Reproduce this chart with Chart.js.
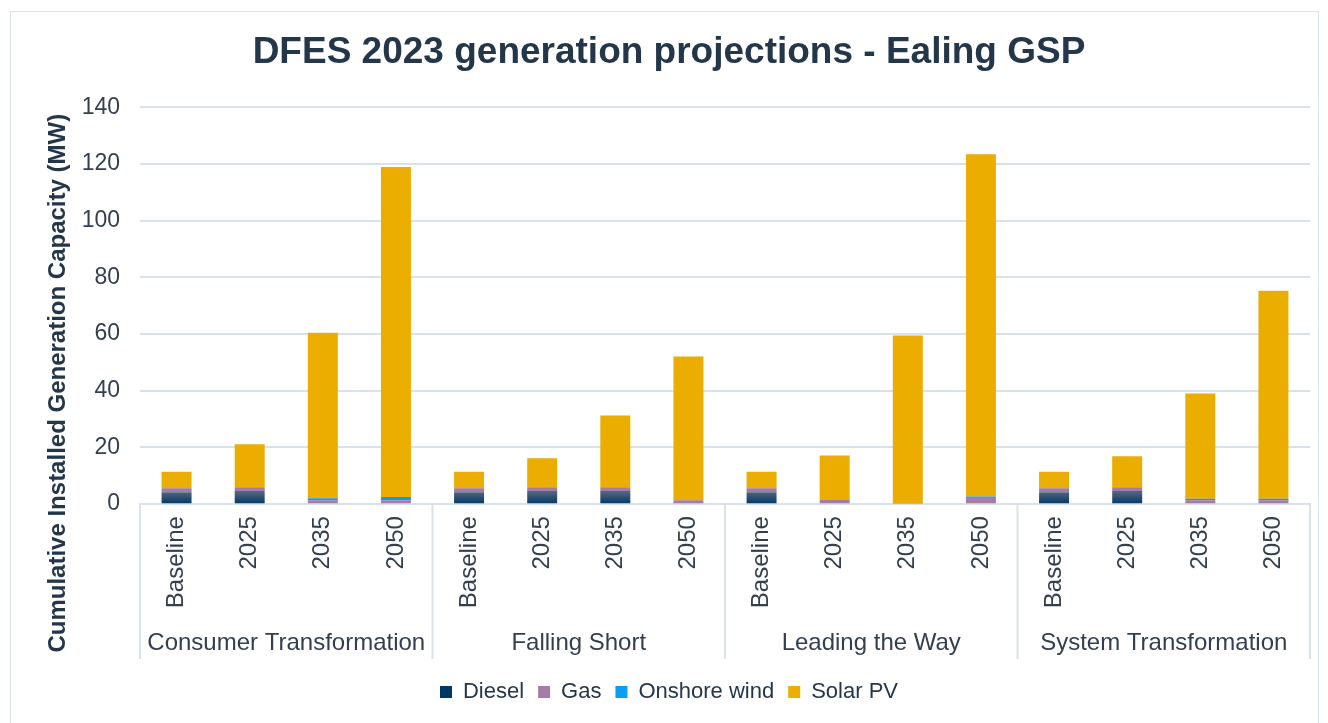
<!DOCTYPE html>
<html>
<head>
<meta charset="utf-8">
<script src="https://cdn.jsdelivr.net/npm/chart.js@4.4.0/dist/chart.umd.min.js"></script>
<style>
  html, body { margin: 0; padding: 0; background: #fff; }
  #wrap { position: relative; width: 1328px; height: 723px; }
  #frame { position: absolute; left: 10px; top: 11px; width: 1309px; height: 720px; border: 1px solid #d9e1ea; box-sizing: border-box; }
  canvas { position: absolute; left: 0; top: 0; }
</style>
</head>
<body>
<div id="wrap">
  <div id="frame"></div>
  <canvas id="myChart" width="1328" height="723"></canvas>
</div>
<script>
// data
var groups = ['Consumer Transformation', 'Falling Short', 'Leading the Way', 'System Transformation'];
var years = ['Baseline', '2025', '2035', '2050'];
var labels = [];
groups.forEach(function (g) { years.forEach(function (y) { labels.push(y); }); });

var diesel = [4.2, 4.6, 0, 0,    4.2, 4.6, 4.6, 0,    4.2, 0, 0, 0,       4.2, 4.6, 0, 0];
var gas    = [1.4, 1.4, 1.4, 1.4, 1.4, 1.4, 1.4, 1.4, 1.4, 1.5, 0.2, 2.6,  1.4, 1.4, 1.4, 1.4];
var wind   = [0, 0, 0.7, 1.1,    0, 0, 0, 0,          0, 0, 0, 0.2,       0, 0, 0.5, 0.5];
var solar  = [5.8, 15.1, 58.4, 116.5, 5.8, 10.2, 25.3, 50.7, 5.8, 15.7, 59.3, 120.7, 5.8, 10.9, 37.1, 73.4];

var yTicks = [0, 20, 40, 60, 80, 100, 120, 140];

var textColor = '#24374a';
var tickColor = '#333f4f';
var gridColor = '#d9e1ea';

function dieselFill(c) {
  var chart = c.chart;
  if (!chart.chartArea) return '#0b3a63';
  var y = chart.scales.y;
  var g = chart.ctx.createLinearGradient(0, y.getPixelForValue(4.6), 0, y.getPixelForValue(0));
  g.addColorStop(0, '#56697f');
  g.addColorStop(1, '#003764');
  return g;
}

// draws the group separators and the rotated y title
var extras = {
  id: 'extras',
  afterDraw: function (chart) {
    var ctx = chart.ctx;
    var a = chart.chartArea;
    var x = chart.scales.x;
    var x2 = chart.scales.x2;
    var lineEnd = x2.bottom - 8;
    ctx.save();
    ctx.strokeStyle = gridColor;
    ctx.lineWidth = 2;
    for (var i = 0; i <= groups.length; i++) {
      var px;
      if (i === 0) px = a.left;
      else if (i === groups.length) px = a.right;
      else px = (x.getPixelForValue(i * 4 - 1) + x.getPixelForValue(i * 4)) / 2;
      ctx.beginPath();
      ctx.moveTo(px, a.bottom);
      ctx.lineTo(px, lineEnd);
      ctx.stroke();
    }
    ctx.translate(58, (a.top + lineEnd) / 2);
    ctx.rotate(-Math.PI / 2);
    ctx.fillStyle = textColor;
    ctx.font = 'bold 24px "Liberation Sans", Arial, sans-serif';
    ctx.textAlign = 'center';
    ctx.textBaseline = 'middle';
    ctx.fillText('Cumulative Installed Generation Capacity (MW)', 0, 0);
    ctx.restore();
  }
};

Chart.defaults.font.family = '"Liberation Sans", Arial, sans-serif';
Chart.defaults.color = textColor;

var context = document.getElementById('myChart');
var myChart = new Chart(context, {
  type: 'bar',
  data: {
    labels: labels,
    datasets: [
      { label: 'Diesel', data: diesel, backgroundColor: dieselFill },
      { label: 'Gas', data: gas, backgroundColor: '#a57ba8' },
      { label: 'Onshore wind', data: wind, backgroundColor: '#0a9cf5' },
      { label: 'Solar PV', data: solar, backgroundColor: '#eaad00' }
    ]
  },
  options: {
    responsive: false,
    animation: false,
    layout: { padding: { left: 28, right: 18, top: 0, bottom: 10 } },
    datasets: { bar: { categoryPercentage: 1, barPercentage: 0.41 } },
    plugins: {
      title: {
        display: true,
        text: 'DFES 2023 generation projections - Ealing GSP',
        color: textColor,
        font: { size: 37, weight: 'bold' },
        padding: { top: 31, bottom: 32 }
      },
      legend: {
        position: 'bottom',
        labels: { boxWidth: 12, boxHeight: 12, font: { size: 22 }, padding: 14, color: textColor }
      },
      tooltip: { enabled: false }
    },
    scales: {
      y: {
        stacked: true,
        min: 0,
        max: 140,
        afterBuildTicks: function (s) { s.ticks = yTicks.map(function (v) { return { value: v }; }); },
        afterFit: function (s) { s.width = 112; },
        ticks: { font: { size: 23 }, color: tickColor, padding: 20 },
        grid: { color: gridColor, lineWidth: 2, drawTicks: false },
        border: { display: false }
      },
      x: {
        stacked: true,
        ticks: { font: { size: 24 }, color: tickColor, minRotation: 90, maxRotation: 90, padding: 4, autoSkip: false },
        grid: { display: false },
        border: { display: true, color: gridColor, width: 2 }
      },
      x2: {
        type: 'category',
        labels: groups,
        offset: true,
        position: 'bottom',
        ticks: { font: { size: 24 }, color: tickColor, padding: 9 },
        grid: { display: false },
        border: { display: false }
      }
    }
  },
  plugins: [extras]
});
</script>
</body>
</html>
